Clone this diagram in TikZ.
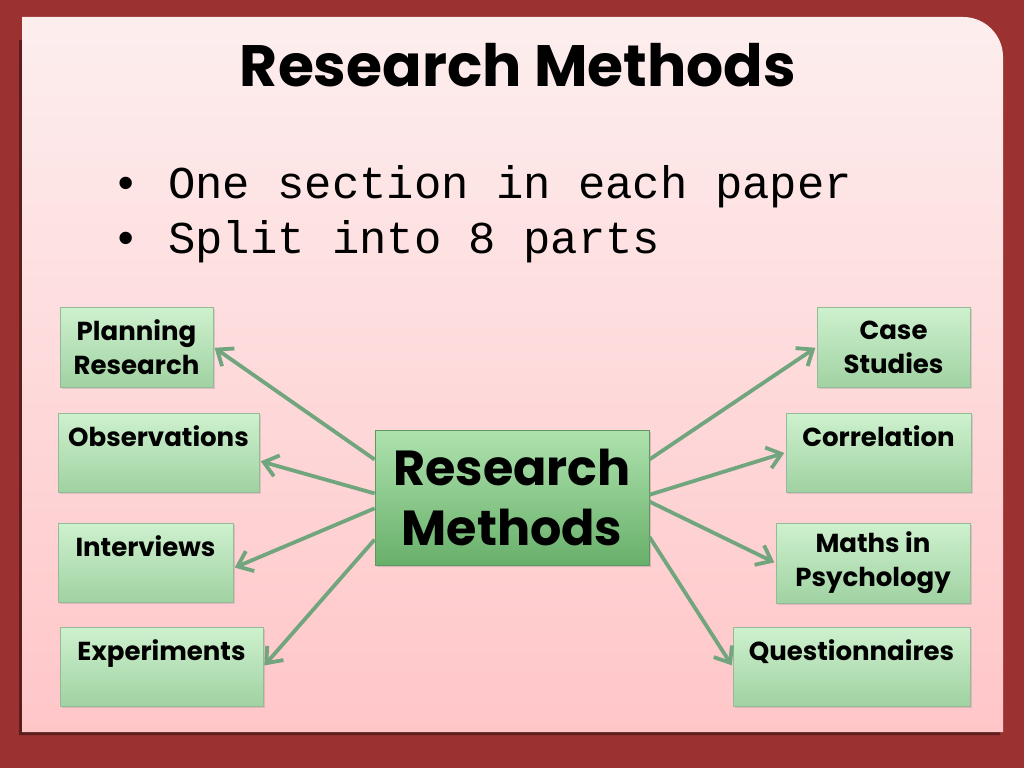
\documentclass[tikz,border=0pt]{standalone}
\usepackage{fontspec}
\usepackage{xcolor}
\usepackage{tikz}
\usetikzlibrary{arrows.meta,calc,shadows}
\newfontfamily\gothic{Poppins}
\newfontfamily\typewriter{Liberation Mono}
\definecolor{slideframe}{RGB}{155,49,49}
\definecolor{paneltop}{RGB}{253,238,238}
\definecolor{panelbottom}{RGB}{255,198,200}
\definecolor{boxtop}{RGB}{206,241,206}
\definecolor{boxbottom}{RGB}{160,210,162}
\definecolor{boxline}{RGB}{150,186,152}
\definecolor{hubtop}{RGB}{174,226,174}
\definecolor{hubbottom}{RGB}{104,176,106}
\definecolor{hubline}{RGB}{96,150,98}
\definecolor{linkgreen}{RGB}{112,165,126}
\tikzset{
  boxsize/.style 2 args={minimum width=#1*0.025cm,minimum height=#2*0.025cm},
  method/.style={draw=boxline,line width=0.6pt,top color=boxtop,bottom color=boxbottom,
    align=center,inner sep=0pt,font=\gothic\bfseries\fontsize{18.5}{24}\selectfont,
    drop shadow={opacity=0.25,shadow xshift=1.2pt,shadow yshift=-1.2pt}},
  hub/.style={draw=hubline,line width=0.6pt,top color=hubtop,bottom color=hubbottom,
    align=center,inner sep=0pt,font=\gothic\bfseries\fontsize{35}{43}\selectfont,
    drop shadow={opacity=0.3,shadow xshift=1.5pt,shadow yshift=-1.5pt}},
  link/.style={-{Straight Barb[length=3.4mm,width=5.4mm]},line width=2.7pt,linkgreen,shorten >=1pt},
  point/.style={anchor=base west,inner sep=0pt,font=\typewriter\fontsize{32.4}{36}\selectfont}
}

\begin{document}
\begin{tikzpicture}[x=0.025cm,y=-0.025cm]
  \fill[slideframe] (0,0) rectangle (1024,768);
  \useasboundingbox (0,0) rectangle (1024,768);
  % panel shadow, left and bottom
  \fill[black!40!slideframe] (19,40) -- (19,735) -- (1000,735) -- (1000,700) -- (22,700) -- (22,40) -- cycle;
  \shade[top color=paneltop,bottom color=panelbottom]
    (22,732) -- (22,17) [rounded corners=1cm] -- (1003,17) [sharp corners] -- (1003,732) -- cycle;

  \node[anchor=base,inner sep=0pt,font=\gothic\bfseries\fontsize{41.5}{50}\selectfont] (title) at (518,87) {Research Methods};
  \node[point] (p1) at (112,198) {\makebox[1.4cm][l]{•}One section in each paper};
  \node[point] (p2) at (112,253) {\makebox[1.4cm][l]{•}Split into 8 parts};

  \node[hub,boxsize={274}{135}] (rm) at (512,497.5) {Research\\Methods};

  \node[method,boxsize={153}{80}] (plan)  at (136.5,347)   {Planning\\Research};
  \node[method,boxsize={201}{79}] (obs)   at (158.5,452.5) {Observations\\\mbox{}};
  \node[method,boxsize={175}{79}] (intv)  at (145.5,562.5) {Interviews\\\mbox{}};
  \node[method,boxsize={203}{79}] (expt)  at (161.5,666.5) {Experiments\\\mbox{}};
  \node[method,boxsize={153}{80}] (case)  at (893.5,347)   {Case\\Studies};
  \node[method,boxsize={185}{79}] (corr)  at (878.5,452.5) {Correlation\\\mbox{}};
  \node[method,boxsize={194}{80}] (maths) at (873,563)     {Maths in\\Psychology};
  \node[method,boxsize={237}{79}] (quest) at (851.5,666.5) {Questionnaires\\\mbox{}};

  \draw[link] ($(rm.north west)!0.22!(rm.south west)$) -- (plan.east);
  \draw[link] ($(rm.north west)!0.47!(rm.south west)$) -- ([yshift=-6pt]obs.east);
  \draw[link] ($(rm.north west)!0.58!(rm.south west)$) -- ([yshift=-4pt]intv.east);
  \draw[link] ($(rm.north west)!0.81!(rm.south west)$) -- (expt.east);
  \draw[link] ($(rm.north east)!0.22!(rm.south east)$) -- (case.west);
  \draw[link] ($(rm.north east)!0.48!(rm.south east)$) -- (corr.west);
  \draw[link] ($(rm.north east)!0.53!(rm.south east)$) -- (maths.west);
  \draw[link] ($(rm.north east)!0.79!(rm.south east)$) -- (quest.west);
\end{tikzpicture}
\end{document}
